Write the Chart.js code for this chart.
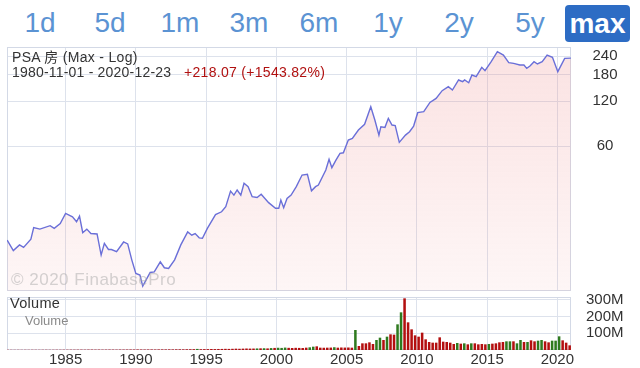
<!DOCTYPE html>
<html>
<head>
<meta charset="utf-8">
<title>PSA 房</title>
<script src="https://cdn.jsdelivr.net/npm/chart.js@4.4.1/dist/chart.umd.min.js"></script>
<style>
  html, body { margin: 0; padding: 0; background: #fff; }
  body {
    width: 640px; height: 368px; position: relative; overflow: hidden;
    font-family: "Liberation Sans", Arial, "Noto Sans CJK SC", sans-serif; color: #333;
  }
  .range { position: absolute; top: 9px; font-size: 28px; line-height: 28px; color: #5b93d3; transform: translateX(-50%); }
  .range.active {
    top: 5px; left: 565px; width: 65px; height: 37px; line-height: 37px; transform: none;
    background: #2d6cc4; color: #fff; font-weight: bold; text-align: center; border-radius: 4px;
  }
  canvas { position: absolute; left: 0; }
  #price { top: 45px; }
  #volume { top: 293px; }
  .label { position: absolute; white-space: nowrap; line-height: 1.15; }
</style>
</head>
<body>
<span class="range" style="left:40px">1d</span>
<span class="range" style="left:110px">5d</span>
<span class="range" style="left:180px">1m</span>
<span class="range" style="left:249px">3m</span>
<span class="range" style="left:319px">6m</span>
<span class="range" style="left:388px">1y</span>
<span class="range" style="left:459px">2y</span>
<span class="range" style="left:530px">5y</span>
<span class="range active">max</span>

<canvas id="price" width="640" height="250"></canvas>
<canvas id="volume" width="640" height="75"></canvas>

<div class="label" style="left:12px;top:49px;font-size:14px;letter-spacing:0.3px">PSA 房 (Max - Log)</div>
<div class="label" style="left:12px;top:64px;font-size:14px;letter-spacing:0.2px">1980-11-01 - 2020-12-23</div>
<div class="label" style="left:184px;top:64px;font-size:14px;letter-spacing:0.3px;color:#b01010">+218.07 (+1543.82%)</div>
<div class="label" style="left:11px;top:270px;font-size:17px;letter-spacing:0.5px;color:rgba(170,170,170,0.5)">© 2020 FinabasePro</div>
<div class="label" style="left:10px;top:295px;font-size:14.5px;letter-spacing:0.3px;color:#333">Volume</div>
<div class="label" style="left:25px;top:314px;font-size:13px;color:#8a8a8a">Volume</div>

<script>
// price line, decimal years
const priceDates = [
  1980.84, 1981.28, 1981.72, 1982.01, 1982.53, 1982.73, 1983.17, 1983.90, 1984.19, 1984.62,
  1985.00, 1985.49, 1985.78, 1985.99, 1986.22, 1986.51, 1986.80, 1987.24, 1987.53, 1987.76,
  1988.05, 1988.26, 1988.63, 1989.13, 1989.42, 1989.71, 1990.00, 1990.29, 1990.49, 1991.02,
  1991.31, 1991.74, 1992.03, 1992.33, 1992.76, 1993.20, 1993.69, 1993.98, 1994.22, 1994.51,
  1994.74, 1995.09, 1995.67, 1996.10, 1996.40, 1996.74, 1996.98, 1997.21, 1997.47, 1997.70,
  1997.99, 1998.28, 1998.63, 1998.92, 1999.45, 1999.94, 2000.17, 2000.32, 2000.52, 2000.76,
  2001.05, 2001.42, 2001.83, 2002.21, 2002.50, 2002.79, 2002.99, 2003.52, 2003.75, 2003.95,
  2004.24, 2004.53, 2004.77, 2005.12, 2005.41, 2005.84, 2006.28, 2006.72, 2007.01, 2007.30,
  2007.44, 2007.73, 2007.97, 2008.23, 2008.46, 2008.75, 2009.19, 2009.48, 2009.77, 2010.06,
  2010.49, 2010.93, 2011.37, 2011.80, 2012.24, 2012.53, 2012.97, 2013.26, 2013.40, 2013.69,
  2013.92, 2014.22, 2014.62, 2014.85, 2015.29, 2015.73, 2016.16, 2016.54, 2016.89, 2017.33,
  2017.62, 2017.82, 2018.05, 2018.34, 2018.58, 2018.92, 2019.27, 2019.65, 2020.03, 2020.52,
  2020.96
];
const prices = [
  14.1, 12.0, 13.1, 12.6, 14.3, 17.1, 16.7, 17.6, 16.9, 18.2,
  21.3, 20.2, 18.7, 20.4, 15.8, 16.7, 15.6, 15.5, 11.2, 13.4,
  12.2, 12.2, 11.8, 13.7, 13.3, 10.4, 8.44, 8.23, 6.94, 8.57,
  8.65, 10.1, 9.21, 9.11, 10.4, 13.1, 16.0, 15.2, 15.6, 14.6,
  14.5, 16.9, 20.9, 21.8, 23.6, 30.0, 28.2, 30.5, 28.2, 33.8,
  32.1, 27.5, 27.2, 28.6, 25.1, 23.0, 23.0, 26.1, 23.2, 26.8,
  28.2, 32.1, 38.4, 38.8, 30.1, 32.1, 32.9, 41.5, 48.9, 43.0,
  48.3, 53.6, 54.1, 65.8, 67.5, 76.8, 83.8, 110, 89.6, 71.0,
  80.8, 80.0, 91.9, 82.9, 82.1, 63.5, 71.0, 74.8, 81.6, 100.3,
  101.8, 117.5, 125, 140.7, 149.7, 142.1, 165.9, 161.7, 165.9, 159.1,
  179.1, 174.6, 201.5, 191.5, 219.9, 256.5, 243.7, 216.6, 214.4, 208.9,
  208.9, 198.5, 205.7, 219.9, 212.2, 219.9, 243.7, 235.1, 188.5, 231.5,
  232.2
];
const priceTicks = [60, 120, 180, 240];
const yearTicks = [1985, 1990, 1995, 2000, 2005, 2010, 2015, 2020];

// quarterly volume in millions, first bar Q4 1980
const firstQuarter = 1980.875;
const volumes = [
  1.0, 1.2, 1.1, 1.3, 1.2, 1.4, 1.3, 1.5, 1.4, 1.3, 1.5, 1.6, 1.4, 1.5, 1.7, 1.6, 1.8,
  1.8, 2.0, 1.9, 2.1, 2.2, 2.0, 2.4, 2.6, 2.3, 2.5, 2.2, 2.4, 2.6, 2.5, 2.3, 2.7, 2.6, 2.8, 3.0, 2.9,
  3.2, 3.0, 2.8, 3.1, 3.3, 3.0, 3.4, 3.6, 3.5, 3.8, 3.6, 4.0, 4.2, 3.9, 4.4, 4.6,
  5.0, 6.5, 4.8, 5.2,
  5.4, 6.0, 5.6, 6.2, 6.4, 7.0, 6.6, 7.2,
  8.0, 7.4, 8.2, 9.0, 8.4, 8.8, 9.4, 10.0,
  10.5, 9.6, 11.5, 12.5, 13.5, 12.5, 14.5, 13.0,
  12.0, 13.0, 12.5, 12.0, 14.0, 16.0, 20.0, 22.0,
  14.0, 13.5, 14.0, 14.5, 16.5, 14.0, 15.0, 14.5,
  15.0, 14.0,
  120, 24, 40, 40, 46, 36, 60, 74, 60, 80,
  94, 92, 154, 226, 310, 166, 124, 88, 80, 104,
  64, 48, 44, 44, 76, 50, 48, 44, 36, 42,
  38, 40, 34, 40, 40, 34, 36, 34, 36, 38,
  40, 46, 48, 52, 52, 52, 40, 60, 48, 48,
  58, 52, 56, 60, 52, 46, 56, 56, 82, 58,
  44, 28
];
// u = quarter closed up (green), d = down (red)
const volumeDirection = `
  dddddddddddddddddddddddddddddddddddddddddddddddddddddd
  u dddddddddddddddd u d u d u d uuu dddddd uu ddddd u ddddd
  uddddduudu dduudddddd dddddddddu dududdddud ddduuduudu dduudduuud dd
`.replace(/\s/g, "");
const volumeTicks = [100, 200, 300];

const GRID = "#dde2ec";
const FONT = '"Liberation Sans", Arial, sans-serif';
Chart.defaults.font.family = FONT;
Chart.defaults.color = "#333";

const frame = {
  id: "frame",
  beforeDatasetsDraw(chart) {
    const { ctx, chartArea: a } = chart;
    ctx.save();
    ctx.strokeStyle = "#d3d9e6";
    ctx.lineWidth = 1;
    ctx.strokeRect(Math.round(a.left) + 0.5, Math.round(a.top) + 0.5,
      Math.round(a.right - a.left) - 1, Math.round(a.bottom - a.top) - 1);
    ctx.restore();
  },
};

function fixed(size) {
  return (scale) => {
    if (scale.isHorizontal()) scale.height = size; else scale.width = size;
    scale.paddingTop = scale.paddingBottom = scale.paddingLeft = scale.paddingRight = 0;
  };
}

function xScale(showLabels) {
  return {
    type: "linear",
    min: 1980.83,
    max: 2020.97,
    bounds: "data",
    offset: false,
    afterBuildTicks: (s) => { s.ticks = yearTicks.map((v) => ({ value: v })); },
    afterFit: fixed(showLabels ? 18 : 0),
    ticks: {
      display: showLabels, autoSkip: false, maxRotation: 0, padding: 1,
      font: { size: 15 }, color: "#333", callback: (v) => String(v),
    },
    grid: { color: GRID, drawTicks: false, offset: false },
    border: { display: false },
  };
}

new Chart(document.getElementById("price"), {
  type: "line",
  data: {
    datasets: [{
      data: priceDates.map((x, i) => ({ x, y: prices[i] })),
      borderColor: "#6a6fd8",
      borderWidth: 1.4,
      pointRadius: 0,
      tension: 0,
      fill: "start",
      backgroundColor: (ctx) => {
        const a = ctx.chart.chartArea;
        if (!a) return "rgba(240,150,150,0.2)";
        const g = ctx.chart.ctx.createLinearGradient(0, a.top, 0, a.bottom);
        g.addColorStop(0, "rgba(238,140,140,0.25)");
        g.addColorStop(1, "rgba(238,140,140,0.08)");
        return g;
      },
    }],
  },
  options: {
    responsive: false,
    animation: false,
    layout: { padding: { left: 7, top: 2, bottom: 4, right: 0 } },
    plugins: { legend: { display: false }, tooltip: { enabled: false } },
    scales: {
      x: xScale(false),
      y: {
        type: "logarithmic",
        position: "right",
        min: 6.44,
        max: 275.7,
        bounds: "data",
        afterBuildTicks: (s) => { s.ticks = priceTicks.map((v) => ({ value: v })); },
        afterFit: fixed(69),
        ticks: {
          crossAlign: "center", padding: 21.5,
          font: { size: 15 }, color: "#333", callback: (v) => String(v),
        },
        grid: { color: GRID, drawTicks: false },
        border: { display: false },
      },
    },
  },
  plugins: [frame],
});

new Chart(document.getElementById("volume"), {
  type: "bar",
  data: {
    datasets: [{
      data: volumes.map((y, i) => ({ x: firstQuarter + i * 0.25, y })),
      backgroundColor: volumes.map((_, i) => volumeDirection[i] === "u" ? "#2f7a1f" : "#b30f0f"),
      borderWidth: 0,
      barPercentage: 0.9,
      categoryPercentage: 0.8,
    }],
  },
  options: {
    responsive: false,
    animation: false,
    layout: { padding: { left: 7, top: 4, bottom: 0, right: 0 } },
    plugins: { legend: { display: false }, tooltip: { enabled: false } },
    scales: {
      x: xScale(true),
      y: {
        type: "linear",
        position: "right",
        min: 0,
        max: 318,
        bounds: "data",
        afterBuildTicks: (s) => { s.ticks = volumeTicks.map((v) => ({ value: v })); },
        afterFit: fixed(69),
        ticks: {
          crossAlign: "center", padding: 15,
          font: { size: 15 }, color: "#333", callback: (v) => v + "M",
        },
        grid: { color: GRID, drawTicks: false },
        border: { display: false },
      },
    },
  },
  plugins: [frame],
});
</script>
</body>
</html>
